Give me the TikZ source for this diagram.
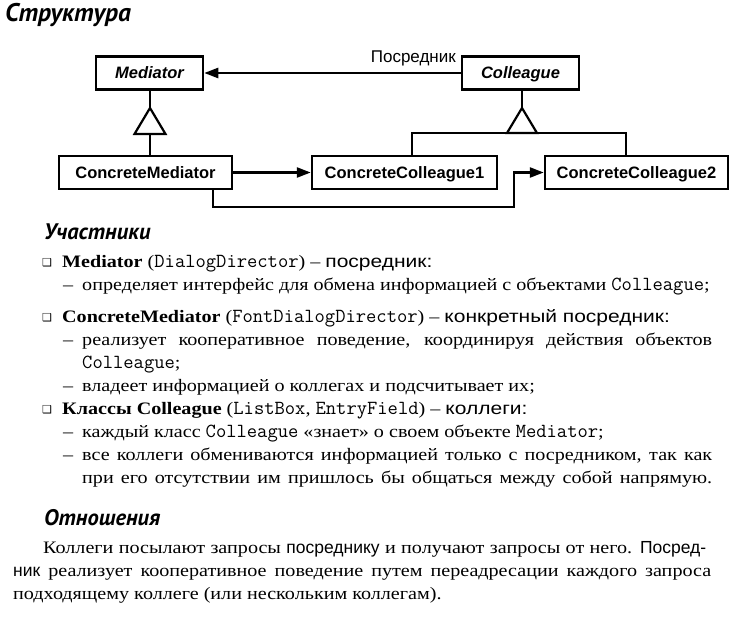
\documentclass[tikz,border=0pt]{standalone}
\usepackage{fontspec}
\setmainfont{Liberation Serif}[FakeStretch=1.15]
\setsansfont{Liberation Sans}
\newfontfamily\sansw{Liberation Sans}[FakeStretch=1.2]
\newfontfamily\headfont{PT Sans}
\newfontfamily\symfont{DejaVu Sans}
\usetikzlibrary{arrows.meta}
\newcommand\cd[1]{{\ttfamily\fontsize{20}{20}\selectfont #1}}
\newcommand\sfw[1]{{\sansw #1}}
\newcommand\sfn[1]{{\sffamily #1}}
\newcommand\jline[2]{\makebox[#1][s]{#2}}
\tikzset{
  cls/.style={draw, line width=2.5pt, inner sep=0pt, minimum height=33pt,
    text height=12pt, text depth=0pt,
    font=\sffamily\bfseries\fontsize{16.5}{18}\selectfont},
  clsit/.style={cls, font=\sffamily\bfseries\itshape\fontsize{16.5}{18}\selectfont},
  conn/.style={line width=2.5pt},
  arr/.style={conn, -{Triangle[length=14pt,width=10pt]}},
  tri/.style={line width=2.2pt, fill=white, line join=miter},
  txt/.style={anchor=base west, inner sep=0pt, font=\fontsize{17.5}{20}\selectfont},
  bul/.style={anchor=base west, inner sep=0pt, font=\symfont\fontsize{11}{12}\selectfont},
  head/.style={anchor=base west, inner sep=0pt, font=\headfont\bfseries\itshape\fontsize{22.5}{24}\selectfont},
  lbl/.style={anchor=base east, inner sep=0pt, font=\sffamily\fontsize{17}{18}\selectfont},
}
\begin{document}
\begin{tikzpicture}[x=1pt,y=-1pt]
\useasboundingbox (0,0) rectangle (742,618);

% title
\node[head, font=\headfont\bfseries\itshape\fontsize{25.5}{27}\selectfont] (title) at (5,22) {Структура};

% diagram
\node[clsit, minimum width=107pt] (med) at (149.5,73) {Mediator};
\node[clsit, minimum width=117pt] (col) at (520.5,73) {Colleague};
\node[cls, minimum width=173pt] (cmed) at (145.5,172.5) {ConcreteMediator};
\node[cls, minimum width=185pt] (cc1) at (404.5,172.5) {ConcreteColleague1};
\node[cls, minimum width=183pt] (cc2) at (636.5,172.5) {ConcreteColleague2};

\draw[arr] (col.west) -- (med.east);
\node[lbl] (plabel) at (456,63) {Посредник};

\coordinate (mapex) at (150,108);
\coordinate (mbase) at (150,134);
\draw[conn] (med.south -| mapex) -- (mapex);
\draw[conn] (mbase) -- (mbase |- cmed.north);
\draw[tri] (mapex) -- ++(-15.5,26) -- ++(31,0) -- cycle;

\coordinate (capex) at (522,108);
\coordinate (h1) at (412,133);
\coordinate (h2) at (626,133);
\draw[conn] (col.south -| capex) -- (capex);
\draw[conn, line join=miter] (h1 |- cc1.north) -- (h1) -- (h2) -- (h2 |- cc2.north);
\draw[tri] (capex) -- ++(-15,25) -- ++(30,0) -- cycle;

\draw[arr] (cmed.east) -- (cc1.west);

\coordinate (bl) at (213,207);
\coordinate (br) at (514,207);
\draw[arr, line join=miter] (bl |- cmed.south) -- (bl) -- (br) -- (br |- cc2.west) -- (cc2.west);

% participants
\node[head] (h-part) at (44,239) {Участники};

\node[bul] (b1) at (42,266) {❑};
\node[txt] (l1) at (62,267) {\textbf{Mediator} (\cd{DialogDirector}) – \sfw{посредник:}};
\node[txt] (d1) at (63,290) {–};
\node[txt] (l2) at (82,290) {определяет интерфейс для обмена информацией с объектами \cd{Colleague};};

\node[bul] (b2) at (42,321) {❑};
\node[txt] (l3) at (62,322) {\textbf{ConcreteMediator} (\cd{FontDialogDirector}) – \sfw{конкретный посредник:}};
\node[txt] (d2) at (63,345) {–};
\node[txt] (l4) at (82,345) {\jline{630pt}{реализует кооперативное поведение, координируя действия объектов}};
\node[txt] (l5) at (82,368) {\cd{Colleague};};
\node[txt] (d3) at (63,391) {–};
\node[txt] (l6) at (82,391) {владеет информацией о коллегах и подсчитывает их;};

\node[bul] (b3) at (42,413) {❑};
\node[txt] (l7) at (62,414) {\textbf{Классы Colleague} (\cd{ListBox}, \cd{EntryField}) – \sfw{коллеги:}};
\node[txt] (d4) at (63,437) {–};
\node[txt] (l8) at (82,437) {каждый класс \cd{Colleague} «знает» о своем объекте \cd{Mediator};};
\node[txt] (d5) at (63,460) {–};
\node[txt] (l9) at (82,460) {\jline{630pt}{все коллеги обмениваются информацией только с посредником, так как}};
\node[txt] (l10) at (82,483) {\jline{630pt}{при его отсутствии им пришлось бы общаться между собой напрямую.}};

% relations
\node[head] (h-rel) at (44,525) {Отношения};
\node[txt] (p1) at (43,553) {\jline{663pt}{Коллеги посылают запросы \sfn{посреднику} и получают запросы от него. \sfn{Посред-}}};
\node[txt] (p2) at (13,576) {\jline{698pt}{\sfn{ник} реализует кооперативное поведение путем переадресации каждого запроса}};
\node[txt] (p3) at (13,599) {подходящему коллеге (или нескольким коллегам).};
\end{tikzpicture}
\end{document}
